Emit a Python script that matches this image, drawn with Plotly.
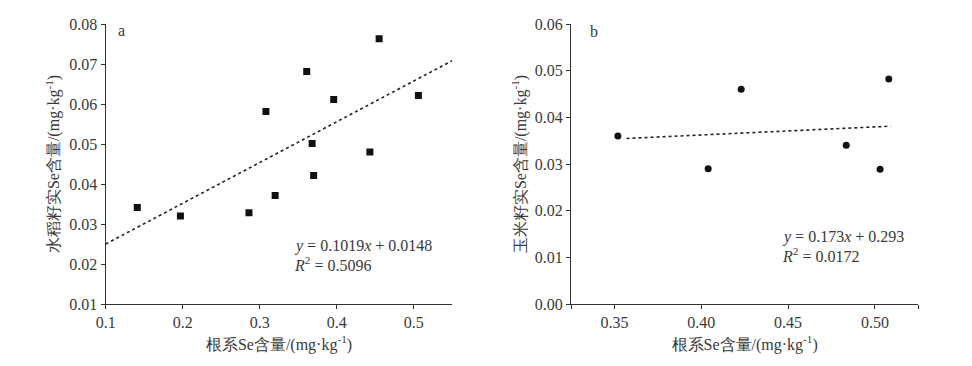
import numpy as np
import plotly.graph_objects as go

# Panel a: rice
rice_root = [0.141, 0.197, 0.286, 0.308, 0.320, 0.361, 0.368, 0.370, 0.396, 0.443, 0.455, 0.506]
rice_grain = [0.0341, 0.0320, 0.0328, 0.0581, 0.0371, 0.0681, 0.0501, 0.0421, 0.0611, 0.0480, 0.0763, 0.0621]
rice_slope, rice_intercept = 0.1019, 0.0148
rice_fit_x = [0.1, 0.55]

# Panel b: maize
maize_root = [0.352, 0.404, 0.423, 0.4835, 0.503, 0.508]
maize_grain = [0.0360, 0.0290, 0.0460, 0.0340, 0.0289, 0.0482]
maize_slope, maize_intercept = 0.0173, 0.0293
maize_fit_x = [0.357, 0.509]

xticks_a = [0.1, 0.2, 0.3, 0.4, 0.5]
yticks_a = [0.01, 0.02, 0.03, 0.04, 0.05, 0.06, 0.07, 0.08]
xticks_b = [0.325, 0.35, 0.40, 0.45, 0.50, 0.525]
xticklabels_b = ["", "0.35", "0.40", "0.45", "0.50", ""]
yticks_b = [0.00, 0.01, 0.02, 0.03, 0.04, 0.05, 0.06]

FONT = "Liberation Serif"
TXT = "#3a3a3a"
AX = "#333333"

fig = go.Figure()
fig.add_trace(go.Scatter(x=rice_root, y=rice_grain, mode="markers",
                         marker=dict(symbol="square", size=7, color="#111111"),
                         xaxis="x", yaxis="y", showlegend=False))
fy = [rice_slope * v + rice_intercept for v in rice_fit_x]
fig.add_trace(go.Scatter(x=rice_fit_x, y=fy, mode="lines",
                         line=dict(color="#222222", width=1.6, dash="dot"),
                         xaxis="x", yaxis="y", showlegend=False))
fig.add_trace(go.Scatter(x=maize_root, y=maize_grain, mode="markers",
                         marker=dict(symbol="circle", size=7, color="#111111"),
                         xaxis="x2", yaxis="y2", showlegend=False))
fy2 = [maize_slope * v + maize_intercept for v in maize_fit_x]
fig.add_trace(go.Scatter(x=maize_fit_x, y=fy2, mode="lines",
                         line=dict(color="#222222", width=1.6, dash="dot"),
                         xaxis="x2", yaxis="y2", showlegend=False))

common_ax = dict(showgrid=False, zeroline=False, showline=True, linecolor=AX, linewidth=1.3,
                 ticks="outside", ticklen=4, tickwidth=1.3, tickcolor=AX, automargin=False,
                 tickfont=dict(family=FONT, size=16, color=TXT))
xtitle = "根系Se含量/(mg·kg<sup>-1</sup>)"
tfont = dict(family=FONT, size=16, color=TXT)

def note(text, x, y, xr, yr):
    return dict(text=text, x=x, y=y, xref=xr, yref=yr, showarrow=False,
                xanchor="left", yanchor="middle", font=tfont)

fig.update_layout(
    width=964, height=358,
    margin=dict(l=0, r=0, t=16, b=62),
    paper_bgcolor="white", plot_bgcolor="white",
    font=dict(family=FONT, size=16, color=TXT),
    xaxis=dict(domain=[97.7 / 964, 444.3 / 964], range=[0.1, 0.55], tickvals=xticks_a, tickformat=".1f",
               anchor="y", title=dict(text=xtitle, font=tfont, standoff=8), **common_ax),
    yaxis=dict(domain=[0, 1], range=[0.01, 0.08], tickvals=yticks_a, tickformat=".2f",
               anchor="x", title=dict(text="水稻籽实Se含量/(mg·kg<sup>-1</sup>)", font=tfont, standoff=5),
               **common_ax),
    xaxis2=dict(domain=[563 / 964, 910.3 / 964], range=[0.325, 0.525], tickvals=xticks_b, ticktext=xticklabels_b,
                anchor="y2", title=dict(text=xtitle, font=tfont, standoff=8), **common_ax),
    yaxis2=dict(domain=[0, 1], range=[0.0, 0.06], tickvals=yticks_b, tickformat=".2f",
                anchor="x2", title=dict(text="玉米籽实Se含量/(mg·kg<sup>-1</sup>)", font=tfont, standoff=4),
                **common_ax),
    annotations=[
        note("a", 0.113, 0.0785, "x", "y"),
        note("b", 0.3345, 0.0585, "x2", "y2"),
        note("<i>y</i> = 0.1019<i>x</i> + 0.0148", 0.342, 0.0245, "x", "y"),
        note("<i>R</i><sup>2</sup> = 0.5096", 0.342, 0.0200, "x", "y"),
        note("<i>y</i> = 0.173<i>x</i> + 0.293", 0.4455, 0.0144, "x2", "y2"),
        note("<i>R</i><sup>2</sup> = 0.0172", 0.4455, 0.0104, "x2", "y2"),
    ],
)

fig.write_html("out.html")
